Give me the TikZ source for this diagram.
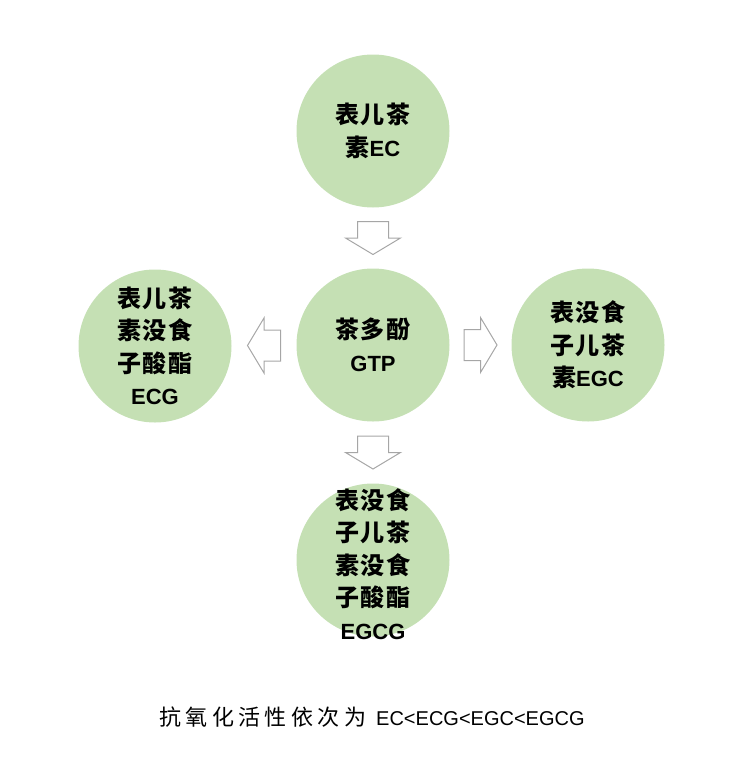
\documentclass[tikz,border=0pt]{standalone}
\usepackage{fontspec}
\setmainfont{Liberation Sans}
\newfontfamily\cjkb[LetterSpace=7]{Noto Sans CJK SC}
\newfontfamily\cjkr[LetterSpace=20]{Noto Sans CJK SC}
\usetikzlibrary{calc}
\definecolor{circfill}{HTML}{C5E0B4}
\definecolor{arrowgray}{HTML}{A6A6A6}
\tikzset{
  bubble/.style={circle, fill=circfill, draw=none, minimum size=153pt, inner sep=0pt},
  bubbletext/.style={align=center, inner sep=0pt, font=\bfseries\fontsize{22}{32.5}\selectfont},
  barrow/.pic={
    \draw[arrowgray, line width=1pt, fill=white, line join=miter]
      (-16.5,-15.5) -- (0,-15.5) -- (0,-27.5) -- (16.5,0) -- (0,27.5) -- (0,15.5) -- (-16.5,15.5) -- cycle;
  }
}
\newcommand{\cj}[1]{{\cjkb\fontsize{24}{32.5}\selectfont #1}}
\begin{document}
\begin{tikzpicture}[x=1pt, y=-1pt]
\useasboundingbox (0,0) rectangle (749,766);
\node[bubble] (ec)   at (373,131) {};
\node[bubble] (gtp)  at (373,345) {};
\node[bubble] (ecg)  at (155,346) {};
\node[bubble] (egc)  at (588,345) {};
\node[bubble] (egcg) at (373,560) {};
\node[bubbletext] (ect) at (ec.center) {\cj{表儿茶}\\\cj{素}EC};
\node[bubbletext] (gtpt) at (gtp.center) {\cj{茶多酚}\\GTP};
\node[bubbletext] (ecgt) at (ecg.center) {\cj{表儿茶}\\\cj{素没食}\\\cj{子酸酯}\\ECG};
\node[bubbletext] (egct) at (egc.center) {\cj{表没食}\\\cj{子儿茶}\\\cj{素}EGC};
\node[bubbletext] (egcgt) at ($(egcg.center)+(0,4)$) {\cj{表没食}\\\cj{子儿茶}\\\cj{素没食}\\\cj{子酸酯}\\EGCG};
\path ($(ec)!0.5!(gtp)$) pic[rotate=-90] {barrow};
\path ($(gtp)!0.5!(egcg)$) pic[rotate=-90] {barrow};
\path ($(gtp)!0.5!(ecg)$) pic[rotate=180] {barrow};
\path ($(gtp)!0.5!(egc)$) pic {barrow};
\node[inner sep=0pt] (cap) at (372,717) {{\cjkr\fontsize{22}{22}\selectfont 抗氧化活性依次为}\hspace{10pt}{\fontsize{20}{20}\selectfont EC<ECG<EGC<EGCG}};
\end{tikzpicture}
\end{document}
